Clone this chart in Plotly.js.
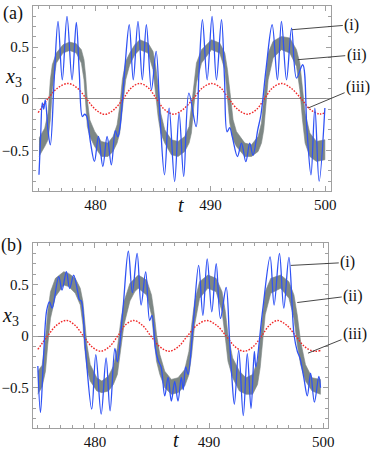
<!DOCTYPE html>
<html>
<head>
<meta charset="utf-8">
<script src="https://cdn.plot.ly/plotly-3.0.1.min.js"></script>
<style>
  html, body { margin: 0; padding: 0; background: #fff; }
  #chart { width: 374px; height: 454px; }
</style>
</head>
<body>
<div id="chart"></div>
<script>
// ---- data ----
// panel (a)
const blueA_t = [475.07, 475.22, 475.36, 475.48, 475.62, 475.85, 476.06, 476.40, 476.73, 477.10, 477.51, 477.95, 478.32, 478.58, 478.85, 479.05, 479.22, 479.55, 479.90, 480.25, 480.63, 481.00, 481.37, 481.72, 481.93, 482.12, 482.55, 482.93, 483.28, 483.69, 484.07, 484.42, 484.86, 485.27, 485.62, 486.00, 486.40, 486.88, 487.27, 487.67, 488.12, 488.75, 489.00, 489.30, 489.71, 490.14, 490.52, 490.96, 491.22, 491.45, 491.68, 491.90, 492.35, 492.70, 493.08, 493.42, 493.70, 494.12, 494.40, 494.85, 495.37, 495.83, 496.18, 496.62, 497.06, 497.49, 498.03, 498.40, 498.75, 499.09, 499.46, 499.96];
const blueA_y = [-0.738, -0.35, -0.04, -0.10, -0.01, -0.30, -0.447, 0.20, 0.751, 0.184, 0.80, 0.184, 0.741, 0.25, -0.172, -0.15, -0.17, -0.42, -0.608, -0.366, -0.657, -0.366, -0.641, -0.31, -0.37, -0.28, 0.30, 0.72, 0.184, 0.751, 0.184, 0.718, 0.087, 0.46, -0.20, -0.738, -0.09, -0.803, -0.139, -0.754, 0.055, -0.27, 0.25, 0.767, 0.184, 0.80, 0.184, 0.767, 0.20, -0.32, -0.28, -0.37, -0.56, -0.43, -0.61, -0.43, -0.55, -0.30, -0.15, 0.30, 0.718, 0.184, 0.751, 0.184, 0.686, 0.20, 0.33, -0.30, -0.738, -0.091, -0.80, -0.09];

const grayA_t = [475.07, 475.57, 475.86, 476.06, 476.23, 476.58, 477.16, 477.74, 478.32, 478.76, 478.99, 479.14, 479.28, 479.49, 479.92, 480.50, 481.08, 481.52, 481.87, 482.10, 482.33, 482.62, 482.97, 483.41, 483.84, 484.57, 485.00, 485.24, 485.44, 485.67, 486.02, 486.60, 487.18, 487.76, 488.14, 488.34, 488.55, 488.78, 489.22, 490.09, 490.81, 491.25, 491.48, 491.68, 491.97, 492.26, 492.99, 493.57, 494.15, 494.44, 494.64, 494.82, 495.02, 495.45, 496.18, 496.91, 497.49, 497.78, 498.01, 498.24, 498.65, 499.23, 499.96];
const grayA_hi = [-0.382, -0.285, -0.139, 0.184, 0.330, 0.443, 0.524, 0.550, 0.534, 0.476, 0.379, 0.217, -0.010, -0.204, -0.317, -0.414, -0.430, -0.366, -0.252, -0.074, 0.184, 0.362, 0.443, 0.524, 0.573, 0.540, 0.459, 0.314, 0.120, -0.139, -0.301, -0.398, -0.414, -0.366, -0.269, -0.074, 0.184, 0.346, 0.476, 0.573, 0.540, 0.443, 0.282, 0.055, -0.204, -0.317, -0.430, -0.446, -0.366, -0.236, -0.010, 0.249, 0.443, 0.557, 0.605, 0.589, 0.476, 0.346, 0.120, -0.139, -0.333, -0.414, -0.398];
const grayA_lo = [-0.560, -0.463, -0.398, -0.204, 0.087, 0.346, 0.443, 0.469, 0.443, 0.346, 0.184, -0.074, -0.269, -0.366, -0.463, -0.560, -0.560, -0.511, -0.430, -0.333, -0.074, 0.184, 0.330, 0.427, 0.476, 0.443, 0.282, 0.055, -0.172, -0.333, -0.430, -0.544, -0.560, -0.511, -0.430, -0.333, -0.074, 0.152, 0.346, 0.476, 0.443, 0.282, 0.023, -0.236, -0.398, -0.463, -0.560, -0.560, -0.511, -0.430, -0.301, -0.074, 0.184, 0.395, 0.476, 0.443, 0.314, 0.087, -0.204, -0.430, -0.560, -0.608, -0.592];

const redA_t = [475.0, 475.85, 476.7, 477.6, 478.4, 479.2, 480.0, 480.8, 481.6, 482.4, 483.1, 483.85, 484.6, 485.3, 486.0, 486.8, 487.6, 488.5, 489.3, 490.1, 490.9, 491.6, 492.4, 493.2, 494.0, 494.7, 495.4, 496.2, 497.0, 497.9, 498.7, 499.5, 500.0];
const redA_y = [-0.135, 0, 0.105, 0.148, 0.105, 0, -0.105, -0.152, -0.105, 0, 0.105, 0.148, 0.105, 0, -0.105, -0.15, -0.105, 0, 0.105, 0.148, 0.105, 0, -0.105, -0.15, -0.105, 0, 0.105, 0.148, 0.105, 0, -0.105, -0.148, -0.135];

// panel (b)
const blueB_t = [475.00, 475.23, 475.50, 475.78, 476.02, 476.25, 476.83, 477.12, 477.50, 477.79, 478.14, 478.49, 478.65, 478.80, 479.15, 479.72, 480.08, 480.55, 480.98, 481.33, 481.75, 481.97, 482.45, 482.93, 483.28, 483.70, 484.05, 484.45, 484.80, 485.00, 485.30, 485.55, 485.80, 486.12, 486.41, 486.70, 486.99, 487.28, 487.57, 487.74, 487.95, 488.16, 488.60, 489.09, 489.46, 489.84, 490.24, 490.63, 491.00, 491.50, 491.78, 492.00, 492.22, 492.60, 493.00, 493.35, 493.68, 493.97, 494.10, 494.70, 495.35, 495.70, 496.17, 496.55, 497.00, 497.45, 497.74, 497.97, 498.30, 498.61, 498.90, 499.23, 499.62, 499.77];
const blueB_y = [-0.29, -0.74, -0.20, 0.25, 0.33, 0.27, 0.574, 0.445, 0.622, 0.46, 0.59, 0.43, 0.35, 0.34, -0.10, -0.708, -0.18, -0.756, -0.212, -0.724, -0.12, -0.25, 0.25, 0.82, 0.42, 0.80, 0.30, 0.62, 0.15, 0.20, -0.12, -0.24, -0.30, -0.58, -0.40, -0.63, -0.44, -0.63, -0.40, -0.52, -0.30, -0.37, 0.10, 0.683, 0.20, 0.747, 0.234, 0.699, 0.17, 0.47, 0.00, -0.40, -0.66, -0.14, -0.77, -0.17, -0.70, -0.15, -0.30, 0.25, 0.766, 0.30, 0.80, 0.27, 0.76, 0.01, -0.15, -0.215, -0.40, -0.58, -0.36, -0.64, -0.39, -0.50];

const grayB_t = [475.00, 475.38, 475.67, 475.87, 476.11, 476.54, 477.27, 477.70, 478.28, 478.72, 478.95, 479.10, 479.30, 479.59, 480.17, 480.61, 481.19, 481.62, 481.97, 482.26, 482.55, 483.07, 483.50, 483.80, 484.53, 484.96, 485.17, 485.40, 485.69, 486.12, 486.70, 487.28, 487.87, 488.24, 488.48, 488.74, 489.17, 489.90, 490.62, 491.14, 491.43, 491.66, 492.07, 492.66, 493.24, 493.82, 494.25, 494.48, 494.69, 494.92, 495.41, 496.28, 497.00, 497.44, 497.73, 498.02, 498.45, 499.03, 499.76];
const grayB_hi = [-0.340, -0.282, -0.020, 0.237, 0.429, 0.558, 0.622, 0.606, 0.558, 0.462, 0.333, 0.141, -0.083, -0.276, -0.404, -0.436, -0.388, -0.292, -0.116, 0.141, 0.333, 0.510, 0.560, 0.590, 0.542, 0.397, 0.237, 0.013, -0.179, -0.340, -0.420, -0.404, -0.324, -0.147, 0.109, 0.333, 0.526, 0.590, 0.558, 0.429, 0.237, 0.013, -0.212, -0.340, -0.404, -0.372, -0.244, -0.019, 0.237, 0.429, 0.558, 0.590, 0.526, 0.397, 0.205, -0.051, -0.276, -0.404, -0.420];
const grayB_lo = [-0.564, -0.490, -0.340, -0.083, 0.173, 0.381, 0.494, 0.478, 0.414, 0.301, 0.109, -0.116, -0.308, -0.436, -0.532, -0.548, -0.532, -0.468, -0.372, -0.148, 0.109, 0.340, 0.430, 0.462, 0.397, 0.205, -0.019, -0.244, -0.372, -0.500, -0.564, -0.548, -0.484, -0.372, -0.179, 0.109, 0.365, 0.462, 0.429, 0.237, -0.019, -0.244, -0.404, -0.532, -0.564, -0.564, -0.468, -0.308, -0.051, 0.205, 0.414, 0.462, 0.365, 0.173, -0.083, -0.276, -0.436, -0.532, -0.564];

const redB_t = [475.0, 475.85, 476.65, 477.5, 478.25, 479.0, 479.75, 480.5, 481.25, 482.0, 482.65, 483.4, 484.15, 484.9, 485.7, 486.5, 487.3, 488.1, 488.95, 489.8, 490.65, 491.5, 492.3, 493.1, 493.85, 494.6, 495.3, 496.0, 496.8, 497.6, 498.4, 499.2, 499.77];
const redB_y = [-0.13, 0, 0.105, 0.151, 0.105, 0, -0.105, -0.147, -0.105, 0, 0.105, 0.15, 0.105, 0, -0.105, -0.148, -0.105, 0, 0.105, 0.15, 0.105, 0, -0.105, -0.148, -0.105, 0, 0.105, 0.15, 0.105, 0, -0.105, -0.148, -0.14];

const curveLabels = ["(i)", "(ii)", "(iii)"];

// ---- styling ----
const W = 374, H = 454;
const serif = '"Liberation Serif", "Times New Roman", serif';
const frameCol = "#a0a0a0";
const blueCol = "#2f52f5";
const grayCol = "#7d8784";
const redCol = "#f02828";

// band drawn as one closed outline: top edge left->right, bottom edge back
function band(t, hi, lo, xa, ya) {
  return {
    x: t.concat(t.slice().reverse()),
    y: hi.concat(lo.slice().reverse()),
    xaxis: xa, yaxis: ya,
    type: "scatter", mode: "lines",
    fill: "toself", fillcolor: grayCol,
    line: { color: grayCol, width: 0.6, shape: "linear" },
    hoverinfo: "skip",
  };
}
function curve(t, y, xa, ya, color, width, dash) {
  return {
    x: t, y: y, xaxis: xa, yaxis: ya,
    type: "scatter", mode: "lines",
    line: { color: color, width: width, shape: "spline", dash: dash || "solid" },
    hoverinfo: "skip",
  };
}

const traces = [
  band(grayA_t, grayA_hi, grayA_lo, "x", "y"),
  curve(redA_t, redA_y, "x", "y", redCol, 1.4, "1.6px,1.4px"),
  curve(blueA_t, blueA_y, "x", "y", blueCol, 1.3),
  band(grayB_t, grayB_hi, grayB_lo, "x2", "y2"),
  curve(redB_t, redB_y, "x2", "y2", redCol, 1.4, "1.6px,1.4px"),
  curve(blueB_t, blueB_y, "x2", "y2", blueCol, 1.3),
];

function xAxis(domain, anchor) {
  return {
    domain: domain, anchor: anchor,
    range: [474.55, 500.45],
    tickmode: "linear", tick0: 480, dtick: 10,
    ticks: "inside", ticklen: 5, tickwidth: 1, tickcolor: frameCol,
    minor: { tick0: 475, dtick: 1, ticks: "inside", ticklen: 3, tickwidth: 1, tickcolor: frameCol },
    showline: true, linecolor: frameCol, linewidth: 1, mirror: "ticks",
    showgrid: false, zeroline: false,
    tickfont: { family: serif, size: 15, color: "#111" },
    fixedrange: true,
  };
}
function yAxis(domain, anchor) {
  return {
    domain: domain, anchor: anchor,
    range: [-0.89, 0.9],
    tickmode: "linear", tick0: 0, dtick: 0.5,
    ticks: "inside", ticklen: 5, tickwidth: 1, tickcolor: frameCol,
    minor: { tick0: 0, dtick: 0.1, ticks: "inside", ticklen: 3, tickwidth: 1, tickcolor: frameCol },
    showline: true, linecolor: frameCol, linewidth: 1, mirror: "ticks",
    showgrid: false,
    zeroline: true, zerolinecolor: "#8c8c8c", zerolinewidth: 1,
    tickfont: { family: serif, size: 15, color: "#111" },
    fixedrange: true,
  };
}

function txt(text, px, py, size) {
  return {
    xref: "paper", yref: "paper",
    x: px / W, y: 1 - py / H,
    xanchor: "center", yanchor: "middle",
    text: text, showarrow: false,
    font: { family: serif, size: size, color: "#111" },
  };
}
function pointer(label, t, v, ax, ay, xr, yr) {
  return {
    xref: xr, yref: yr, x: t, y: v,
    text: label, showarrow: true, arrowhead: 0,
    arrowwidth: 0.9, arrowcolor: "#333",
    ax: ax, ay: ay, standoff: 0,
    font: { family: serif, size: 16, color: "#111" },
  };
}

const layout = {
  width: W, height: H,
  margin: { l: 0, r: 0, t: 0, b: 0 },
  paper_bgcolor: "#fff", plot_bgcolor: "#fff",
  showlegend: false,
  xaxis: xAxis([33 / W, 330.5 / W], "y"),
  yaxis: yAxis([1 - 190.5 / H, 1 - 6 / H], "x"),
  xaxis2: xAxis([32.7 / W, 328.3 / W], "y2"),
  yaxis2: yAxis([1 - 428 / H, 1 - 243 / H], "x2"),
  annotations: [
    txt("(a)", 13, 13, 18),
    txt("<i>x</i><sub>3</sub>", 13, 77, 20),
    txt("<i>t</i>", 181, 205, 20),
    txt("(b)", 11, 245, 18),
    txt("<i>x</i><sub>3</sub>", 10, 316, 20),
    txt("<i>t</i>", 176, 440, 20),
    pointer(curveLabels[0], 497.08, 0.67, 60, -5, "x", "y"),
    pointer(curveLabels[1], 497.6, 0.379, 59, -5, "x", "y"),
    pointer(curveLabels[2], 498.5, -0.09, 50, -21, "x", "y"),
    pointer(curveLabels[0], 497.16, 0.683, 57, -3, "x2", "y2"),
    pointer(curveLabels[1], 497.73, 0.324, 56, -7, "x2", "y2"),
    pointer(curveLabels[2], 498.67, -0.166, 47, -19, "x2", "y2"),
  ],
};

Plotly.newPlot("chart", traces, layout, { displayModeBar: false, staticPlot: true });
</script>
</body>
</html>
